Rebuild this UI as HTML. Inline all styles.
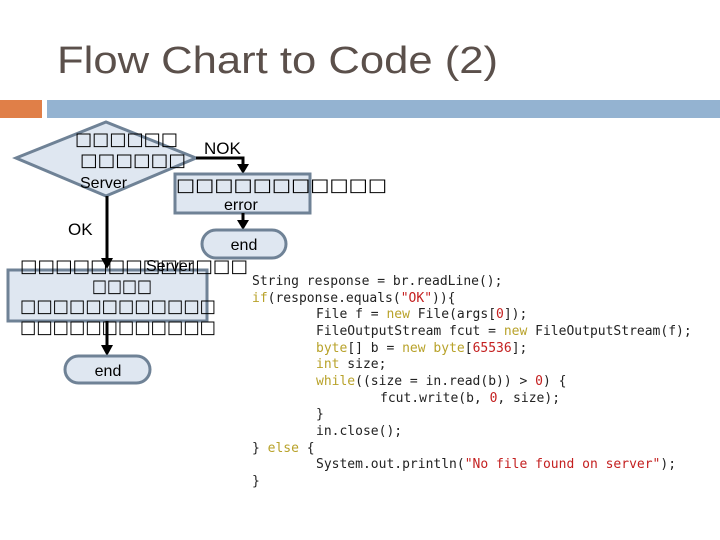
<!DOCTYPE html>
<html><head><meta charset="utf-8"><style>
html,body{margin:0;padding:0;background:#fff;}
svg{display:block}
.t{font-family:"Liberation Sans",sans-serif;fill:#000}
.b{font-family:"DejaVu Sans",sans-serif;fill:#000}
.c{font-family:"DejaVu Sans Mono","Liberation Mono",monospace;font-size:13px;fill:#222;white-space:pre}
.k{fill:#b8a22a}.s{fill:#c42020}
</style></head><body>
<svg width="720" height="540" viewBox="0 0 720 540" xmlns="http://www.w3.org/2000/svg">
<text class="t" x="57" y="73" font-size="38" style="fill:#5b504b" textLength="441" lengthAdjust="spacingAndGlyphs">Flow Chart to Code (2)</text>
<rect x="0" y="100" width="42" height="18" fill="#e07f48"/>
<rect x="47" y="100" width="673" height="18" fill="#94b3d1"/>
<polygon points="16,158 106,122 196,158 106,196" fill="#dfe7f1" stroke="#6f8296" stroke-width="3"/>
<text class="b" x="75" y="145" font-size="18" textLength="103" lengthAdjust="spacingAndGlyphs">□□□□□□</text>
<text class="b" x="80" y="166" font-size="18" textLength="106" lengthAdjust="spacingAndGlyphs">□□□□□□</text>
<text class="t" x="80" y="188" font-size="16">Server</text>
<text class="t" x="204" y="154" font-size="17">NOK</text>
<polyline points="196,158 243,158 243,166" fill="none" stroke="#000" stroke-width="3"/>
<polygon points="237,164 249,164 243,174" fill="#000"/>
<rect x="175" y="174" width="135" height="39" fill="#dfe7f1" stroke="#6f8296" stroke-width="3"/>
<text class="b" x="176" y="191" font-size="18" textLength="211" lengthAdjust="spacingAndGlyphs">□□□□□□□□□□□</text>
<text class="t" x="224" y="210" font-size="16">error</text>
<line x1="243" y1="213" x2="243" y2="222" stroke="#000" stroke-width="3"/>
<polygon points="237,220 249,220 243,230" fill="#000"/>
<rect x="202" y="230" width="84" height="28" rx="14" fill="#dfe7f1" stroke="#6f8296" stroke-width="3"/>
<text class="t" x="244" y="250" font-size="16" text-anchor="middle">end</text>
<text class="t" x="68" y="235" font-size="17">OK</text>
<line x1="107" y1="196" x2="107" y2="260" stroke="#000" stroke-width="3"/>
<polygon points="101,258 113,258 107,269" fill="#000"/>
<rect x="8" y="270" width="199" height="51" fill="#dfe7f1" stroke="#6f8296" stroke-width="3"/>
<text class="b" x="20" y="272" font-size="18" textLength="228" lengthAdjust="spacingAndGlyphs">□□□□□□□□□□□□□</text>
<text class="t" x="146" y="271" font-size="16">Server</text>
<text class="b" x="92" y="292" font-size="18" textLength="60" lengthAdjust="spacingAndGlyphs">□□□□</text>
<text class="b" x="20" y="312" font-size="18" textLength="196" lengthAdjust="spacingAndGlyphs">□□□□□□□□□□□□</text>
<text class="b" x="20" y="333" font-size="18" textLength="196" lengthAdjust="spacingAndGlyphs">□□□□□□□□□□□□</text>
<line x1="107" y1="321" x2="107" y2="347" stroke="#000" stroke-width="3"/>
<polygon points="101,345 113,345 107,356" fill="#000"/>
<rect x="65" y="356" width="85" height="27" rx="13.5" fill="#dfe7f1" stroke="#6f8296" stroke-width="3"/>
<text class="t" x="108" y="376" font-size="16" text-anchor="middle">end</text>
<text class="c" x="252" y="285">String response = br.readLine();</text>
<text class="c" x="252" y="302"><tspan class="k">if</tspan>(response.equals(<tspan class="s">"OK"</tspan>)){</text>
<text class="c" x="316" y="318">File f = <tspan class="k">new</tspan> File(args[<tspan class="s">0</tspan>]);</text>
<text class="c" x="316" y="335">FileOutputStream fcut = <tspan class="k">new</tspan> FileOutputStream(f);</text>
<text class="c" x="316" y="352"><tspan class="k">byte</tspan>[] b = <tspan class="k">new</tspan> <tspan class="k">byte</tspan>[<tspan class="s">65536</tspan>];</text>
<text class="c" x="316" y="368"><tspan class="k">int</tspan> size;</text>
<text class="c" x="316" y="385"><tspan class="k">while</tspan>((size = in.read(b)) &gt; <tspan class="s">0</tspan>) {</text>
<text class="c" x="380" y="402">fcut.write(b, <tspan class="s">0</tspan>, size);</text>
<text class="c" x="316" y="418">}</text>
<text class="c" x="316" y="435">in.close();</text>
<text class="c" x="252" y="452">} <tspan class="k">else</tspan> {</text>
<text class="c" x="316" y="468">System.out.println(<tspan class="s">"No file found on server"</tspan>);</text>
<text class="c" x="252" y="485">}</text>
</svg>
</body></html>
